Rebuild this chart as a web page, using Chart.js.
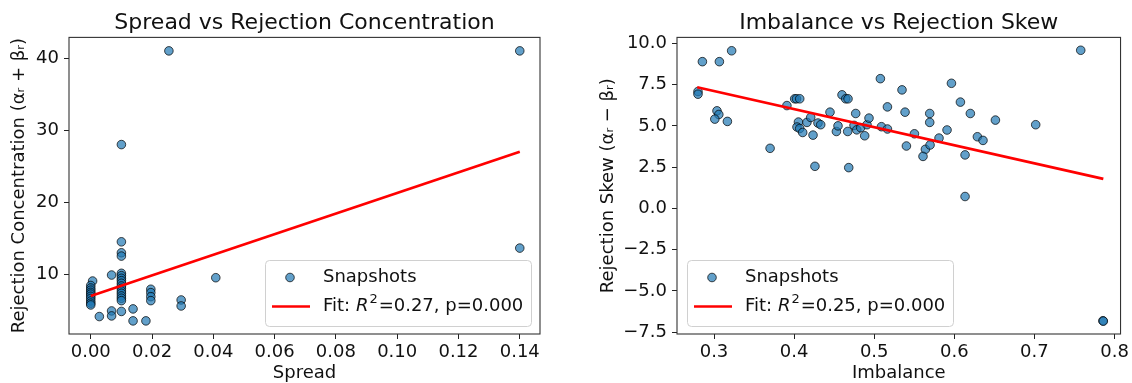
<!DOCTYPE html>
<html>
<head>
<meta charset="utf-8">
<script src="https://cdn.jsdelivr.net/npm/chart.js@4.4.0/dist/chart.umd.min.js"></script>
<style>
  body { margin: 0; background: #fff; }
  .panel { position: absolute; top: 0; width: 566px; height: 383px; }
</style>
</head>
<body>
<div class="panel" style="left:0"><canvas id="spreadChart"></canvas></div>
<div class="panel" style="left:566px"><canvas id="imbalanceChart"></canvas></div>
<script>
// Spread vs concentration snapshots
const spread = [
  0.0006, 0, 0, 0, 0, 0, 0, 0, 0, 0, 0,
  0.0028, 0.0068, 0.0068, 0.0068,
  0.01, 0.01, 0.01, 0.01, 0.01, 0.01, 0.01, 0.01, 0.01, 0.01, 0.01, 0.01, 0.01, 0.01, 0.01, 0.01, 0.01,
  0.0138, 0.0138, 0.018,
  0.0196, 0.0196, 0.0196, 0.0196,
  0.0255, 0.0295, 0.0295, 0.0408, 0.14, 0.14
]
const concentration = [
  9.07, 8.45, 8.1, 7.8, 7.5, 7.25, 6.95, 6.65, 6.3, 6.0, 5.75,
  4.14, 9.9, 4.92, 4.23,
  28.0, 14.51, 12.99, 12.53, 10.14, 9.81, 9.45, 9.12, 8.76, 8.38, 8.06, 7.69, 7.37, 7.0, 6.68, 6.35, 4.85,
  5.2, 3.54, 3.54,
  7.93, 7.46, 6.9, 6.35,
  41.0, 6.44, 5.61, 9.53, 41.0, 13.64
]
const spreadFitX = [0, 0.14]
const spreadFitY = [7.0, 27.0]
const spreadR2 = '0.27'
const spreadP = '0.000'

// Imbalance vs skew snapshots
const imbalance = [
  0.280, 0.280, 0.2855, 0.3067, 0.322, 0.3037, 0.306, 0.301, 0.3167, 0.370,
  0.391, 0.4007, 0.403, 0.407, 0.4054, 0.4036, 0.407, 0.4107, 0.416, 0.4207,
  0.4236, 0.426, 0.4298, 0.4332, 0.4448, 0.4528, 0.4548, 0.4598, 0.4644, 0.4673,
  0.4669, 0.4682, 0.4748, 0.4769, 0.4782, 0.4831, 0.4881, 0.491, 0.4935, 0.5077,
  0.509, 0.5165, 0.5165, 0.5347, 0.5964, 0.5385, 0.5693, 0.5693, 0.6076, 0.62,
  0.6513, 0.7016, 0.5502, 0.5402, 0.5639, 0.5609, 0.5697, 0.5809, 0.5909, 0.6134,
  0.6134, 0.6288, 0.6358, 0.7578, 0.7855, 0.786
]
const skew = [
  7.08, 6.92, 8.89, 8.89, 9.55, 5.91, 5.69, 5.41, 5.27, 3.64,
  6.23, 6.64, 6.64, 6.64, 5.23, 4.93, 4.84, 4.60, 5.21, 5.51,
  4.44, 2.55, 5.17, 5.07, 5.83, 4.66, 5.0, 6.88, 6.64, 6.64,
  4.66, 2.47, 5.03, 5.75, 4.76, 4.89, 4.40, 5.07, 5.47, 7.86,
  4.95, 6.15, 4.81, 7.18, 7.58, 5.83, 5.75, 5.21, 6.44, 5.75,
  5.35, 5.07, 4.52, 3.78, 3.58, 3.15, 3.84, 4.26, 4.75, 3.24,
  0.72, 4.34, 4.12, 9.58, -6.81, -6.83
]
const imbalanceFitX = [0.279, 0.786]
const imbalanceFitY = [7.34, 1.79]
const imbalanceR2 = '0.25'
const imbalanceP = '0.000'

const FONT = '"DejaVu Sans"'
const INK = '#111'
Chart.defaults.font.family = FONT
Chart.defaults.font.size = 18
Chart.defaults.color = INK

const toPoints = (xs, ys) => xs.map((x, i) => ({ x, y: ys[i] }))
const minus = s => s.replace('-', '\u2212')

// box around the plot area (all four spines)
const frame = {
  id: 'frame',
  afterDraw(chart) {
    const { ctx, chartArea: a } = chart
    ctx.save()
    ctx.strokeStyle = '#333'
    ctx.lineWidth = 1.1
    ctx.strokeRect(a.left, a.top, a.right - a.left, a.bottom - a.top)
    ctx.restore()
  }
}

// legend drawn inside the plot, bottom corner
const innerLegend = {
  id: 'innerLegend',
  afterDatasetsDraw(chart, args, opts) {
    const { ctx, chartArea: a } = chart
    const w = 266, h = 66
    const x = opts.side === 'right' ? a.right - 9 - w : a.left + 10
    const y = a.bottom - 8 - h
    const pts = chart.data.datasets[1]
    const fit = chart.data.datasets[0]
    ctx.save()
    ctx.beginPath()
    ctx.roundRect(x + 0.5, y + 0.5, w, h, 4)
    ctx.fillStyle = 'rgba(255,255,255,0.8)'
    ctx.fill()
    ctx.strokeStyle = '#d0d0d0'
    ctx.lineWidth = 1
    ctx.stroke()

    ctx.beginPath()
    ctx.arc(x + 25, y + 17.5, pts.pointRadius, 0, Math.PI * 2)
    ctx.fillStyle = pts.backgroundColor
    ctx.fill()
    ctx.strokeStyle = pts.borderColor
    ctx.lineWidth = pts.borderWidth
    ctx.stroke()

    ctx.beginPath()
    ctx.moveTo(x + 7, y + 46.5)
    ctx.lineTo(x + 45, y + 46.5)
    ctx.strokeStyle = fit.borderColor
    ctx.lineWidth = fit.borderWidth
    ctx.stroke()

    ctx.fillStyle = INK
    ctx.textBaseline = 'middle'
    let tx = x + 58
    ctx.font = `18px ${FONT}`
    ctx.fillText(pts.label, tx, y + 17.5)
    // "Fit: R^2=…, p=…" with italic R and raised 2
    const ty = y + 46.5
    ctx.fillText('Fit: ', tx, ty)
    tx += ctx.measureText('Fit: ').width
    ctx.font = `italic 18px ${FONT}`
    ctx.fillText('R', tx, ty)
    tx += ctx.measureText('R').width + 1
    ctx.font = `13px ${FONT}`
    ctx.fillText('2', tx, ty - 7)
    tx += ctx.measureText('2').width + 1
    ctx.font = `18px ${FONT}`
    ctx.fillText(`=${opts.r2}, p=${opts.p}`, tx, ty)
    ctx.restore()
  }
}

function makeChart(id, cfg) {
  return new Chart(document.getElementById(id), {
    type: 'scatter',
    data: {
      datasets: [
        {
          label: 'Fit',
          data: toPoints(cfg.fitX, cfg.fitY),
          showLine: true,
          borderColor: '#ff0000',
          borderWidth: 2.7,
          pointRadius: 0,
          order: 0
        },
        {
          label: 'Snapshots',
          data: toPoints(cfg.xs, cfg.ys),
          backgroundColor: 'rgba(31,119,180,0.7)',
          borderColor: 'rgba(0,0,0,0.7)',
          borderWidth: 1,
          pointRadius: 4.3,
          pointHoverRadius: 4.3,
          order: 1
        }
      ]
    },
    options: {
      responsive: true,
      maintainAspectRatio: false,
      animation: false,
      events: [],
      layout: { padding: { left: 0, right: cfg.padRight, top: 0, bottom: 0 } },
      plugins: {
        legend: { display: false },
        tooltip: { enabled: false },
        title: {
          display: true,
          text: cfg.title,
          fullSize: false,
          color: INK,
          font: { size: 22, weight: 'normal' },
          padding: { top: 10, bottom: 1 }
        },
        innerLegend: { side: cfg.legendSide, r2: cfg.r2, p: cfg.p }
      },
      scales: {
        x: {
          type: 'linear',
          min: cfg.xMin,
          max: cfg.xMax,
          afterFit: s => { s.height = 49 },
          border: { display: false },
          grid: { drawOnChartArea: false, tickLength: 5, tickColor: '#222', tickWidth: 1 },
          ticks: {
            stepSize: cfg.xStep,
            includeBounds: false,
            autoSkip: false,
            maxRotation: 0,
            padding: 3,
            color: INK,
            callback: v => minus(v.toFixed(cfg.xDec))
          },
          title: { display: true, text: cfg.xLabel, color: INK, font: { size: 18, lineHeight: 1.1 }, padding: 0 }
        },
        y: {
          type: 'linear',
          min: cfg.yMin,
          max: cfg.yMax,
          afterFit: s => { s.width = cfg.yWidth },
          border: { display: false },
          grid: { drawOnChartArea: false, tickLength: 5, tickColor: '#222', tickWidth: 1 },
          ticks: {
            stepSize: cfg.yStep,
            includeBounds: false,
            autoSkip: false,
            padding: 5,
            color: INK,
            callback: v => minus(v.toFixed(cfg.yDec))
          },
          title: { display: true, text: cfg.yLabel, color: INK, font: { size: 18 }, padding: { top: cfg.yTitlePad, bottom: 0 } }
        }
      }
    },
    plugins: [innerLegend, frame]
  })
}

makeChart('spreadChart', {
  title: 'Spread vs Rejection Concentration',
  xs: spread, ys: concentration,
  fitX: spreadFitX, fitY: spreadFitY, r2: spreadR2, p: spreadP,
  xLabel: 'Spread', yLabel: 'Rejection Concentration (\u03b1\u1d63 + \u03b2\u1d63)',
  xMin: -0.0071, xMax: 0.1466, xStep: 0.02, xDec: 2,
  yMin: 1.72, yMax: 42.87, yStep: 10, yDec: 0,
  yWidth: 69, yTitlePad: 9, padRight: 26, legendSide: 'right'
})

makeChart('imbalanceChart', {
  title: 'Imbalance vs Rejection Skew',
  xs: imbalance, ys: skew,
  fitX: imbalanceFitX, fitY: imbalanceFitY, r2: imbalanceR2, p: imbalanceP,
  xLabel: 'Imbalance', yLabel: 'Rejection Skew (\u03b1\u1d63 \u2212 \u03b2\u1d63)',
  xMin: 0.2538, xMax: 0.8075, xStep: 0.1, xDec: 1,
  yMin: -7.61, yMax: 10.36, yStep: 2.5, yDec: 1,
  yWidth: 111, yTitlePad: 32, padRight: 11, legendSide: 'left'
})
</script>
</body>
</html>
